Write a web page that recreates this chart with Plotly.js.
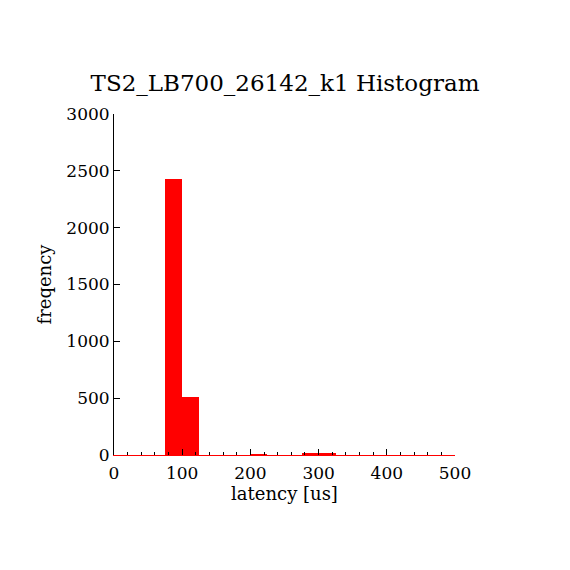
<!DOCTYPE html>
<html>
<head>
<meta charset="utf-8">
<script src="https://cdn.plot.ly/plotly-3.0.1.min.js"></script>
<style>html,body{margin:0;padding:0;background:#fff;}#chart{width:570px;height:570px;}</style>
</head>
<body>
<div id="chart"></div>
<script>
// Histogram bins (width 25 us) and counts
const binWidth = 25;
const binCenters = [12.5, 37.5, 62.5, 87.5, 112.5, 137.5, 162.5, 187.5, 212.5, 237.5,
                    262.5, 287.5, 312.5, 337.5, 362.5, 387.5, 412.5, 437.5, 462.5, 487.5];
const counts = [0, 0, 0, 2428, 510, 0, 0, 0, 8, 0,
                0, 17, 17, 0, 0, 0, 0, 0, 0, 0];
const xTickVals = [0, 100, 200, 300, 400, 500];
const yTickVals = [0, 500, 1000, 1500, 2000, 2500, 3000];

const font = "DejaVu Serif, Liberation Serif, serif";

const trace = {
  type: 'bar',
  x: binCenters,
  y: counts,
  width: binWidth,
  marker: {color: '#ff0000', line: {width: 0}},
  hoverinfo: 'x+y'
};

const layout = {
  width: 570, height: 570,
  paper_bgcolor: '#ffffff', plot_bgcolor: '#ffffff',
  margin: {l: 114, r: 115, t: 114, b: 115},
  showlegend: false,
  bargap: 0,
  font: {family: font, color: '#000', size: 17},
  title: {text: 'TS2_LB700_26142_k1 Histogram', font: {family: font, size: 23, color: '#000'},
          x: 0.5, xanchor: 'center', y: 1 - 83/570, yanchor: 'middle'},
  xaxis: {
    range: [0, 500], tickvals: xTickVals, ticks: 'inside', ticklen: 6, tickcolor: '#000',
    showline: true, linecolor: '#ff0000', linewidth: 1, mirror: false,
    showgrid: false, zeroline: false,
    minor: {dtick: 20, tick0: 0, ticks: 'inside', ticklen: 3, tickcolor: '#000', showgrid: false},
    tickfont: {family: font, size: 17, color: '#000'},
    ticklabelstandoff: 3,
    title: {text: 'latency [us]', font: {family: font, size: 18, color: '#000'}, standoff: 4}
  },
  yaxis: {
    range: [0, 3000], tickvals: yTickVals, ticks: 'inside', ticklen: 6, tickcolor: '#000',
    showline: true, linecolor: '#000', linewidth: 1, mirror: false,
    showgrid: false, zeroline: false,
    tickfont: {family: font, size: 17, color: '#000'},
    title: {text: 'freqency', font: {family: font, size: 18, color: '#000'}, standoff: 10}
  }
};

Plotly.newPlot('chart', [trace], layout, {displayModeBar: false, staticPlot: true});
</script>
</body>
</html>
